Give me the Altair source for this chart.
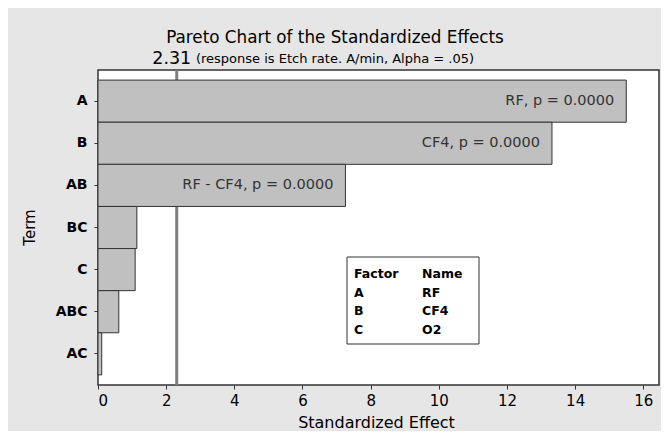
import altair as alt
import pandas as pd

# ---- data ----
terms = ["A", "B", "AB", "BC", "C", "ABC", "AC"]
effects = [15.50, 13.32, 7.26, 1.14, 1.09, 0.61, 0.11]
bar_labels = ["RF, p = 0.0000", "CF4, p = 0.0000", "RF - CF4, p = 0.0000", "", "", "", ""]
ref_value = 2.31
ref_label = "2.31"
x_ticks = [0, 2, 4, 6, 8, 10, 12, 14, 16]
factor_col = ["Factor", "A", "B", "C"]
name_col = ["Name", "RF", "CF4", "O2"]
title_text = "Pareto Chart of the Standardized Effects"
subtitle_text = "(response is Etch rate. A/min, Alpha = .05)"

df = pd.DataFrame({"term": terms, "effect": effects, "label": bar_labels})
ref_df = pd.DataFrame({"v": [ref_value], "lbl": [ref_label]})
one = pd.DataFrame({"k": [0]})

FONT = "DejaVu Sans"
W, H = 561, 315

xscale = alt.Scale(domain=[0, 16.46], nice=False, zero=True)
yscale = alt.Scale(domain=terms, paddingInner=0, paddingOuter=0.24)

ref_rule = alt.Chart(ref_df).mark_rule(color="#808080", strokeWidth=3).encode(
    x=alt.X("v:Q", scale=xscale,
            axis=alt.Axis(values=x_ticks, title="Standardized Effect", grid=False,
                          domain=False, tickSize=4, tickColor="#333333",
                          labelFontSize=15, labelFont=FONT, labelColor="#000000",
                          labelPadding=4, titleFont=FONT, titleFontSize=16,
                          titleFontWeight="normal", titleColor="#000000",
                          titleX=278, titleY=37, titleBaseline="middle"))
)

bars = alt.Chart(df).mark_bar(color="#c0c0c0", stroke="#333333", strokeWidth=1).encode(
    x=alt.X("effect:Q", scale=xscale),
    y=alt.Y("term:N", scale=yscale, sort=terms,
            axis=alt.Axis(title="Term", domain=False, tickSize=4, tickColor="#333333",
                          labelFontSize=14, labelFont=FONT, labelFontWeight="bold",
                          labelColor="#000000", labelPadding=7,
                          titleFont=FONT, titleFontSize=15, titleFontWeight="normal",
                          titleColor="#000000", titleX=-69, titleY=157,
                          titleAngle=-90, titleBaseline="middle", titleAlign="center")),
)

bar_text = alt.Chart(df).mark_text(align="right", baseline="middle", dx=-12,
                                   font=FONT, fontSize=14.5, color="#333333").encode(
    x=alt.X("effect:Q", scale=xscale),
    y=alt.Y("term:N", scale=yscale, sort=terms),
    text="label:N",
)

ref_text = alt.Chart(ref_df).mark_text(align="center", baseline="middle", dx=-5,
                                       font=FONT, fontSize=17.5, color="#000000").encode(
    x=alt.X("v:Q", scale=xscale), y=alt.value(-11), text="lbl:N"
)

title = alt.Chart(one).mark_text(text=title_text, align="center", baseline="middle",
                                 font=FONT, fontSize=16.8, color="#000000").encode(
    x=alt.value(237), y=alt.value(-32)
)
subtitle = alt.Chart(one).mark_text(text=subtitle_text, align="center", baseline="middle",
                                    font=FONT, fontSize=13, color="#000000").encode(
    x=alt.value(237), y=alt.value(-11)
)

legend_box = alt.Chart(one).mark_rect(fill="white", stroke="#333333", strokeWidth=1).encode(
    x=alt.value(249), x2=alt.value(381), y=alt.value(187), y2=alt.value(274)
)
legend_f = alt.Chart(one).mark_text(text="\n".join(factor_col), lineBreak="\n", lineHeight=18.7,
                                    align="left", baseline="middle", font=FONT, fontSize=12.5,
                                    fontWeight="bold", color="#000000").encode(
    x=alt.value(256), y=alt.value(204)
)
legend_n = alt.Chart(one).mark_text(text="\n".join(name_col), lineBreak="\n", lineHeight=18.7,
                                    align="left", baseline="middle", font=FONT, fontSize=12.5,
                                    fontWeight="bold", color="#000000").encode(
    x=alt.value(324), y=alt.value(204)
)

chart = alt.layer(ref_rule, bars, bar_text, ref_text, title, subtitle,
                  legend_box, legend_f, legend_n).properties(
    width=W, height=H,
    autosize=alt.AutoSizeParams(type="none"),
    padding={"left": 90, "top": 62, "right": 2, "bottom": 46},
    background="#e6e6e6",
).configure_view(stroke="#333333", strokeWidth=1.5, fill="white")

chart.save("out.html", embed_options={"renderer": "svg", "actions": False})
